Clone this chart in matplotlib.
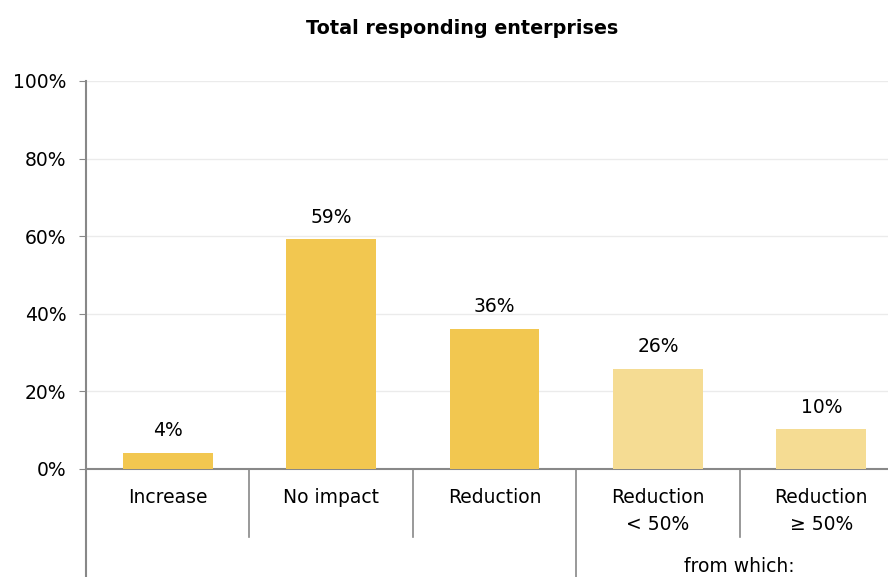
import matplotlib
matplotlib.use("Agg")
from matplotlib import pyplot as plt
from matplotlib.transforms import blended_transform_factory
from matplotlib.ticker import FixedLocator, FuncFormatter

categories = ["Increase", "No impact", "Reduction", "Reduction\n< 50%", "Reduction\n\u2265 50%"]
values = [4.2, 59.2, 36.2, 25.9, 10.3]
value_labels = ["4%", "59%", "36%", "26%", "10%"]
bar_colors = ["#F2C750", "#F2C750", "#F2C750", "#F5DC93", "#F5DC93"]

title = "Total responding enterprises"
group_label = "from which:"

plt.rcParams['font.family'] = ['DejaVu Sans']

W, H = 888, 577
fig = plt.figure(figsize=(W / 100, H / 100), dpi=100)
ax = fig.add_axes([86 / W, 1 - 469 / H, (903 - 86) / W, (469 - 81) / H])

x = list(range(len(categories)))
ax.bar(x, values, width=0.55, color=bar_colors, zorder=3)
for xi, v, lab in zip(x, values, value_labels):
    ax.annotate(lab, (xi, v), xytext=(0, 9), textcoords="offset points",
                ha="center", va="bottom", fontsize=13.5)

ax.set_xlim(-0.5, len(categories) - 0.5)
ax.set_ylim(0, 100)
ax.yaxis.set_major_locator(FixedLocator([0, 20, 40, 60, 80, 100]))
ax.yaxis.set_major_formatter(FuncFormatter(lambda v, p: "%d%%" % v))
ax.tick_params(axis="y", direction="out", length=5, color="#888888", labelsize=13.5, pad=9)
ax.set_xticks([])
ax.grid(axis="y", color="#EBEBEB", linewidth=1, zorder=0)

for s in ["top", "right"]:
    ax.spines[s].set_visible(False)
ax.spines["left"].set_visible(False)
ax.spines["bottom"].set_color("#888888")
ax.spines["bottom"].set_linewidth(1.5)

# category separators below the axis
trans = blended_transform_factory(ax.transData, fig.transFigure)
gray = "#888888"
ax.plot([-0.5, -0.5], [0, 1 - 81 / H], color=gray, lw=1.5, transform=trans, clip_on=False)
for b in [0.5, 1.5, 3.5]:
    ax.plot([b, b], [1 - 537 / H, 1 - 469 / H], color=gray, lw=1.2, transform=trans, clip_on=False)
ax.plot([2.5, 2.5], [0, 1 - 469 / H], color=gray, lw=1.2, transform=trans, clip_on=False)

for xi, cat in zip(x, categories):
    ax.text(xi, 1 - 488 / H, cat, transform=trans, ha="center", va="top",
            fontsize=13.5, linespacing=1.5)

ax.text(3.5, 1 - 566 / H, group_label, transform=trans, ha="center", va="center", fontsize=13.5)

fig.text(462 / W, 1 - 28 / H, title, ha="center", va="center", fontsize=13.8, fontweight="bold")

fig.savefig("out.png", dpi=100)
